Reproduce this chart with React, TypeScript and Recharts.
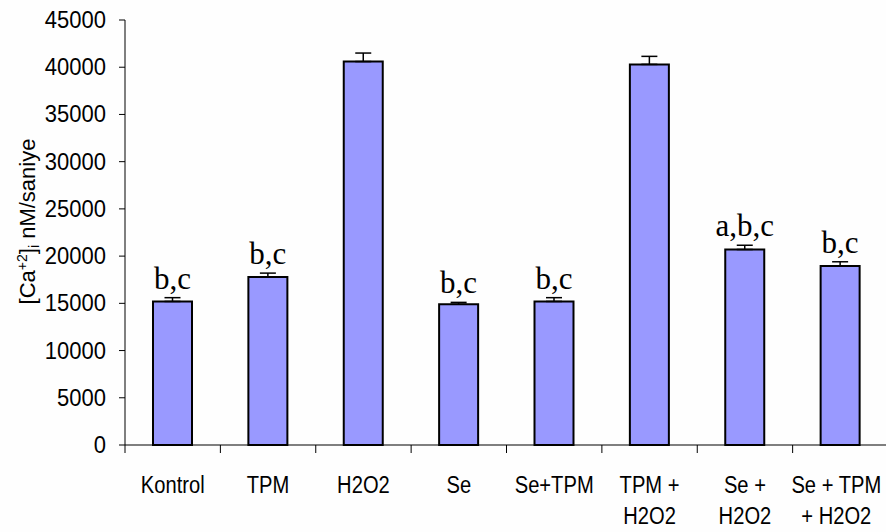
import React from 'react';
import { BarChart, Bar, XAxis, YAxis, ErrorBar, LabelList } from 'recharts';

const categories = ['Kontrol', 'TPM', 'H2O2', 'Se', 'Se+TPM', 'TPM +\nH2O2', 'Se +\nH2O2', 'Se + TPM\n+ H2O2'];
const values = [15200, 17800, 40600, 14900, 15200, 40300, 20700, 18950];
const errors = [400, 400, 900, 200, 400, 850, 450, 450];
const letters = ['b,c', 'b,c', '', 'b,c', 'b,c', '', 'a,b,c', 'b,c'];
const yTicks = [0, 5000, 10000, 15000, 20000, 25000, 30000, 35000, 40000, 45000];

const data = categories.map((name, i) => ({
  name,
  value: values[i],
  err: [0, errors[i]],
  sig: letters[i],
}));

const SANS = 'Liberation Sans, Arial, sans-serif';
const SERIF = 'Liberation Serif, Times New Roman, serif';

const XTick = (props: any) => {
  const { x, y, payload, index } = props;
  const off = payload && typeof payload.offset === 'number' ? payload.offset : 47.6;
  const lines = String(payload.value).split('\n');
  const last = index === categories.length - 1;
  const cx = last ? x - 4 : x;
  return (
    <g>
      <line x1={x - off} x2={x - off} y1={y} y2={y + 8} stroke="#000" strokeWidth={1} />
      {last && (
        <line x1={x + off} x2={x + off} y1={y} y2={y + 8} stroke="#000" strokeWidth={1} />
      )}
      {lines.map((ln, k) => (
        <text
          key={k}
          transform={`translate(${cx}, ${y + 48 + k * 31}) scale(0.84, 1)`}
          textAnchor="middle"
          fontFamily={SANS}
          fontSize={24}
          fill="#000"
        >
          {ln}
        </text>
      ))}
    </g>
  );
};

const YTick = (props: any) => {
  const { x, y, payload } = props;
  return (
    <text
      transform={`translate(${x}, ${y + 8}) scale(1, 1.1)`}
      textAnchor="end"
      fontFamily={SANS}
      fontSize={22}
      fill="#000"
    >
      {payload.value}
    </text>
  );
};

const SigLabel = (props: any) => {
  const { x, y, width, height, value, index } = props;
  if (!value) return null;
  const v = values[index];
  const errPx = v ? (errors[index] * height) / v : 0;
  return (
    <text
      x={x + width / 2}
      y={y - errPx - 9}
      textAnchor="middle"
      fontFamily={SERIF}
      fontSize={31}
      fill="#000"
    >
      {value}
    </text>
  );
};

const YLabel = (props: any) => {
  const vb = props.viewBox || { x: 0, y: 20, width: 125, height: 425 };
  const cx = 35;
  const cy = vb.y + vb.height / 2 - 11;
  return (
    <text
      x={cx}
      y={cy}
      transform={`rotate(-90, ${cx}, ${cy})`}
      textAnchor="middle"
      fontFamily={SANS}
      fontSize={22}
      fill="#000"
    >
      [Ca
      <tspan dy={-8} fontSize={14}>+2</tspan>
      <tspan dy={8}>]</tspan>
      <tspan dy={4} fontSize={14}>i</tspan>
      <tspan dy={-4}> nM/saniye</tspan>
    </text>
  );
};

export default function App() {
  return (
    <div
      style={{
        position: 'absolute',
        left: 0,
        top: 0,
        width: 886,
        height: 532,
        overflow: 'hidden',
        background: '#fefefe',
      }}
    >
      <BarChart
        width={900}
        height={532}
        data={data}
        margin={{ top: 20, right: 12, left: 0, bottom: 0 }}
      >
        <XAxis
          dataKey="name"
          height={87}
          tickLine={false}
          tickSize={0}
          tickMargin={0}
          axisLine={{ stroke: '#000', strokeWidth: 1 }}
          tick={<XTick />}
          interval={0}
        />
        <YAxis
          width={125}
          domain={[0, 45000]}
          ticks={yTicks}
          interval={0}
          tickSize={6}
          tickMargin={13}
          axisLine={{ stroke: '#000', strokeWidth: 1 }}
          tickLine={{ stroke: '#000', strokeWidth: 1 }}
          tick={<YTick />}
          label={<YLabel />}
        />
        <Bar
          dataKey="value"
          fill="#9999FF"
          stroke="#000"
          strokeWidth={2}
          barSize={39}
          isAnimationActive={false}
        >
          <ErrorBar dataKey="err" width={8} stroke="#000" strokeWidth={1.5} direction="y" />
          <LabelList dataKey="sig" content={<SigLabel />} />
        </Bar>
      </BarChart>
    </div>
  );
}
